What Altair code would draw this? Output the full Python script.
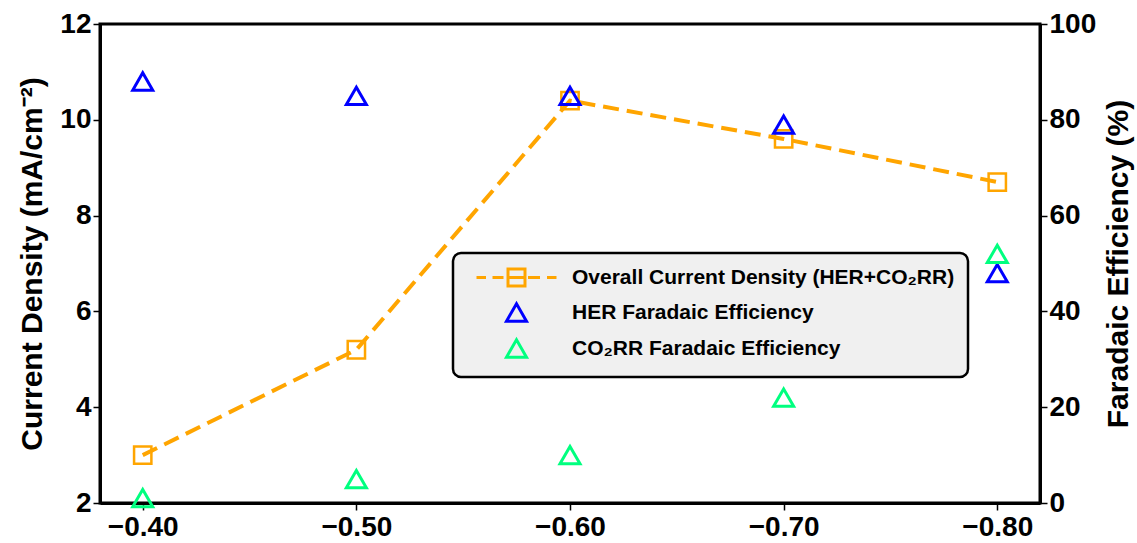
import altair as alt
import pandas as pd

potential = [-0.40, -0.50, -0.60, -0.70, -0.80]
current_density = [3.0, 5.2, 10.4, 9.6, 8.7]
her_fe = [88, 85, 85, 79, 48]
co2rr_fe = [1, 5, 10, 22, 52]

S1 = "Overall Current Density (HER+CO₂RR)"
S2 = "HER Faradaic Efficiency"
S3 = "CO₂RR Faradaic Efficiency"
series_names = [S1, S2, S3]
series_colors = ["#FFA500", "#0000FF", "#00FF7F"]
legend_line_symbol = ("M-4,0H-3.05M-2.4,0H-1.3M-0.85,-0.85H0.85V0.85H-0.85Z"
                      "M-0.85,0H0.85M1.15,0H2.35M3.05,0H4")

cd_df = pd.DataFrame({"potential": potential, "value": current_density, "series": S1})
fe_df = pd.DataFrame({
    "potential": potential + potential,
    "value": her_fe + co2rr_fe,
    "series": [S2] * len(her_fe) + [S3] * len(co2rr_fe),
})

FONT = "Liberation Sans"

x_enc = alt.X(
    "potential:Q",
    scale=alt.Scale(domain=[-0.82, -0.38], reverse=True, nice=False, zero=False),
    axis=alt.Axis(values=potential, format=".2f", title=None, labelPadding=3),
)

color_enc = alt.Color(
    "series:N",
    scale=alt.Scale(domain=series_names, range=series_colors),
    legend=alt.Legend(
        title=None, orient="none", legendX=353, legendY=229,
        fillColor="#f0f0f0", strokeColor="black",
        padding=13, labelFont=FONT, labelFontSize=21, labelFontWeight="bold",
        labelColor="black", labelLimit=600, symbolSize=400, symbolStrokeWidth=3,
        symbolOffset=39, labelOffset=44, rowPadding=5,
    ),
)

y_left = alt.Y(
    "value:Q",
    scale=alt.Scale(domain=[2, 12], nice=False, zero=False),
    axis=alt.Axis(values=[2, 4, 6, 8, 10, 12], title="Current Density (mA/cm⁻²)",
                  titlePadding=12, orient="left"),
)

line = alt.Chart(cd_df).mark_line(
    color="#FFA500", strokeWidth=4, strokeDash=[16, 8]
).encode(x=x_enc, y=y_left)

squares = alt.Chart(cd_df).mark_point(
    filled=False, size=300, strokeWidth=2.5, opacity=1
).encode(x=x_enc, y=y_left, color=color_enc, shape=alt.value("square"))

triangles = alt.Chart(fe_df).mark_point(
    filled=False, size=400, strokeWidth=3, opacity=1
).encode(
    x=x_enc,
    y=alt.Y(
        "value:Q",
        scale=alt.Scale(domain=[0, 100], nice=False),
        axis=alt.Axis(values=[0, 20, 40, 60, 80, 100], title="Faradaic Efficiency (%)",
                      titlePadding=8, orient="right", titleAngle=270,
                      titleBaseline="top"),
    ),
    color=color_enc,
    shape=alt.Shape("series:N",
                    scale=alt.Scale(domain=series_names,
                                    range=[legend_line_symbol, "triangle-up", "triangle-up"])),
)

chart = alt.layer(alt.layer(line, squares), triangles).resolve_scale(
    y="independent"
).properties(
    width=940, height=479,
    padding={"left": 100, "top": 24, "right": 97, "bottom": 40},
    autosize="none",
).configure_view(
    stroke="black", strokeWidth=3
).configure_legend(
    strokeWidth=2.5, cornerRadius=8, strokeColor="black", fillColor="#f0f0f0",
).configure_axis(
    grid=False, domainColor="black", domainWidth=3, tickColor="black",
    tickWidth=1.5, tickSize=7, labelFont=FONT, labelFontSize=28,
    labelFontWeight="bold", labelColor="black", titleFont=FONT,
    titleFontSize=30, titleFontWeight="bold", titleColor="black",
)

chart.save("out.html", embed_options={"renderer": "svg", "actions": False})
